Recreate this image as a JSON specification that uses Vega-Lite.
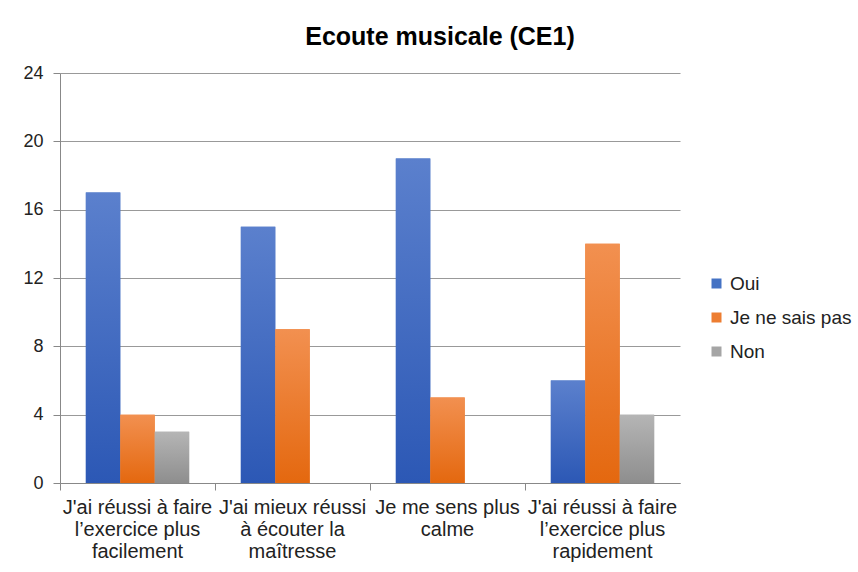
{
  "$schema": "https://vega.github.io/schema/vega-lite/v6.json",
  "autosize": "none",
  "width": 620,
  "height": 410,
  "padding": {"left": 60, "top": 73, "right": 178, "bottom": 89},
  "background": "white",
  "title": {
    "text": "Ecoute musicale (CE1)",
    "font": "Liberation Sans",
    "fontSize": 25,
    "fontWeight": "bold",
    "color": "#000000",
    "anchor": "middle",
    "dx": 70,
    "dy": 32,
    "baseline": "alphabetic",
    "offset": 26
  },
  "config": {
    "view": {"stroke": null},
    "font": "Liberation Sans"
  },
  "data": {
    "values": [
      {"q": "J'ai réussi à faire|l’exercice plus|facilement", "rep": "Oui", "n": 17},
      {"q": "J'ai réussi à faire|l’exercice plus|facilement", "rep": "Je ne sais pas", "n": 4},
      {"q": "J'ai réussi à faire|l’exercice plus|facilement", "rep": "Non", "n": 3},
      {"q": "J'ai mieux réussi|à écouter la|maîtresse", "rep": "Oui", "n": 15},
      {"q": "J'ai mieux réussi|à écouter la|maîtresse", "rep": "Je ne sais pas", "n": 9},
      {"q": "J'ai mieux réussi|à écouter la|maîtresse", "rep": "Non", "n": 0},
      {"q": "Je me sens plus|calme", "rep": "Oui", "n": 19},
      {"q": "Je me sens plus|calme", "rep": "Je ne sais pas", "n": 5},
      {"q": "Je me sens plus|calme", "rep": "Non", "n": 0},
      {"q": "J'ai réussi à faire|l’exercice plus|rapidement", "rep": "Oui", "n": 6},
      {"q": "J'ai réussi à faire|l’exercice plus|rapidement", "rep": "Je ne sais pas", "n": 14},
      {"q": "J'ai réussi à faire|l’exercice plus|rapidement", "rep": "Non", "n": 4}
    ]
  },
  "encoding": {
    "x": {
      "field": "q",
      "type": "nominal",
      "sort": null,
      "scale": {"paddingInner": 0, "paddingOuter": 0},
      "axis": {
        "title": null,
        "labelAngle": 0,
        "labelExpr": "split(datum.label, '|')",
        "labelFontSize": 20,
        "labelColor": "#222222",
        "labelLineHeight": 22,
        "labelPadding": 7,
        "labelLimit": 0,
        "labelBaseline": "top",
        "labelOverlap": false,
        "bandPosition": 0,
        "ticks": true,
        "tickSize": 7,
        "tickColor": "#888888",
        "domainColor": "#888888",
        "grid": false
      }
    },
    "xOffset": {
      "field": "rep",
      "type": "nominal",
      "scale": {"domain": ["Oui", "Je ne sais pas", "Non"], "paddingInner": 0, "paddingOuter": 0.75}
    },
    "y": {
      "field": "n",
      "type": "quantitative",
      "scale": {"domain": [0, 24], "nice": false},
      "axis": {
        "title": null,
        "values": [0, 4, 8, 12, 16, 20, 24],
        "labelFontSize": 18,
        "labelColor": "#222222",
        "labelPadding": 10,
        "tickSize": 7,
        "tickColor": "#888888",
        "domainColor": "#888888",
        "gridColor": "#999999",
        "gridWidth": 1
      }
    }
  },
  "layer": [
    {
      "mark": {"type": "bar"},
      "encoding": {
        "color": {
          "field": "rep",
          "type": "nominal",
          "scale": {
            "domain": ["Oui", "Je ne sais pas", "Non"],
            "range": ["#4472c4", "#ed7d31", "#a5a5a5"]
          },
          "legend": {
            "title": null,
            "orient": "none",
            "legendX": 647,
            "legendY": 201,
            "symbolType": "square",
            "symbolSize": 100,
            "symbolStrokeWidth": 0,
            "labelFontSize": 19,
            "labelColor": "#222222",
            "labelOffset": 4,
            "rowPadding": 14
          }
        }
      }
    },
    {
      "transform": [{"filter": "datum.rep === 'Oui'"}],
      "mark": {"type": "bar", "color": {"gradient": "linear", "x1": 0, "y1": 0, "x2": 0, "y2": 1, "stops": [{"offset": 0, "color": "#5b80cd"}, {"offset": 1, "color": "#2c58b5"}]}}
    },
    {
      "transform": [{"filter": "datum.rep === 'Je ne sais pas'"}],
      "mark": {"type": "bar", "color": {"gradient": "linear", "x1": 0, "y1": 0, "x2": 0, "y2": 1, "stops": [{"offset": 0, "color": "#f29050"}, {"offset": 1, "color": "#e4680f"}]}}
    },
    {
      "transform": [{"filter": "datum.rep === 'Non'"}],
      "mark": {"type": "bar", "color": {"gradient": "linear", "x1": 0, "y1": 0, "x2": 0, "y2": 1, "stops": [{"offset": 0, "color": "#b5b5b5"}, {"offset": 1, "color": "#8e8e8e"}]}}
    }
  ]
}
